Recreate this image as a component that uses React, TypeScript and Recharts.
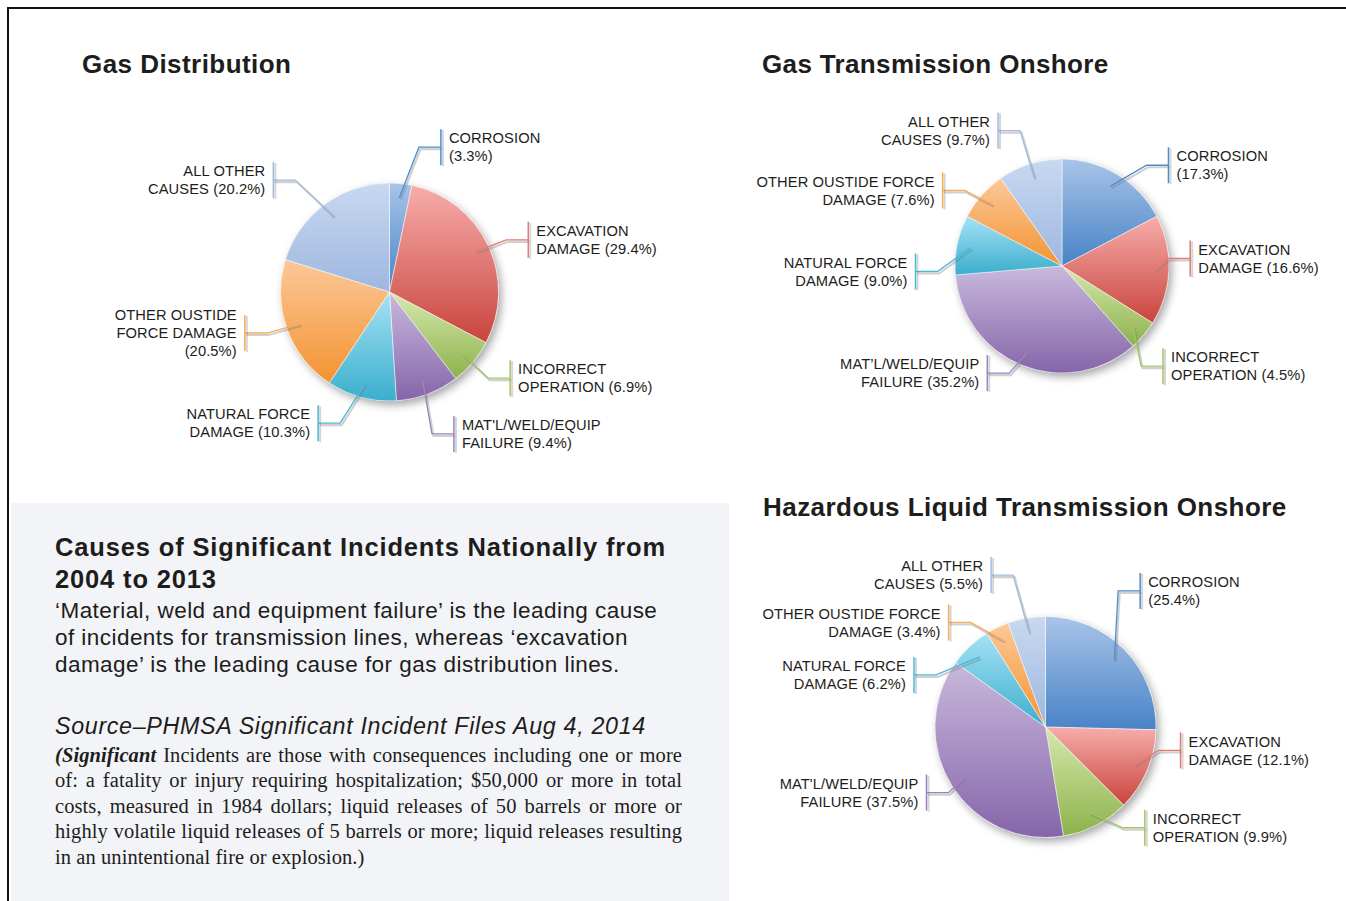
import React from 'react';
import { PieChart, Pie, Cell } from 'recharts';

// cause order, clockwise from 12 o'clock
const causes = ['corrosion', 'excavation', 'incorrect', 'material', 'natural', 'outside', 'other'];

const distributionShare = [3.3, 29.4, 6.9, 9.4, 10.3, 20.5, 20.2];
const transmissionShare = [17.3, 16.6, 4.5, 35.2, 9.0, 7.6, 9.7];
const liquidShare = [25.4, 12.1, 9.9, 37.5, 6.2, 3.4, 5.5];

// {p} is swapped for the share
const distributionLabels = [
  ['CORROSION', '({p})'],
  ['EXCAVATION', 'DAMAGE ({p})'],
  ['INCORRECT', 'OPERATION ({p})'],
  ["MAT'L/WELD/EQUIP", 'FAILURE ({p})'],
  ['NATURAL FORCE', 'DAMAGE ({p})'],
  ['OTHER OUSTIDE', 'FORCE DAMAGE', '({p})'],
  ['ALL OTHER', 'CAUSES ({p})'],
];
const transmissionLabels = [
  ['CORROSION', '({p})'],
  ['EXCAVATION', 'DAMAGE ({p})'],
  ['INCORRECT', 'OPERATION ({p})'],
  ['MAT\u2019L/WELD/EQUIP', 'FAILURE ({p})'],
  ['NATURAL FORCE', 'DAMAGE ({p})'],
  ['OTHER OUSTIDE FORCE', 'DAMAGE ({p})'],
  ['ALL OTHER', 'CAUSES ({p})'],
];
const liquidLabels = [
  ['CORROSION', '({p})'],
  ['EXCAVATION', 'DAMAGE ({p})'],
  ['INCORRECT', 'OPERATION ({p})'],
  ["MAT'L/WELD/EQUIP", 'FAILURE ({p})'],
  ['NATURAL FORCE', 'DAMAGE ({p})'],
  ['OTHER OUSTIDE FORCE', 'DAMAGE ({p})'],
  ['ALL OTHER', 'CAUSES ({p})'],
];

// label placement: angle nudge (deg, clockwise) and distance in radii
const distributionNudge = [13.6, 4.6, -4.6, -3.9, 13.6, 3.8, -9.7];
const distributionReach = [1.41, 1.36, 1.36, 1.43, 1.37, 1.38, 1.48];
const transmissionNudge = [15.4, -5.6, 4.5, 13.1, -13.6, -9, -7.8];
const transmissionReach = [1.37, 1.2, 1.33, 1.22, 1.37, 1.32, 1.4];
const liquidNudge = [-10.9, -13.4, -17.4, 3.0, -25.2, -16.9, -9.8];
const liquidReach = [1.5, 1.24, 1.28, 1.23, 1.28, 1.29, 1.46];

const gradTop = ['#a9c4e8', '#f7adab', '#d6e9ad', '#c9b9dc', '#a6e2f5', '#fcc899', '#c8d9f0'];
const gradBottom = ['#4783c6', '#c9443d', '#8cb24b', '#8565aa', '#3aaecd', '#f39331', '#9db7e0'];
const leaderColor = ['#4f8ccc', '#e57a74', '#a3c765', '#9c84c2', '#45b9d6', '#f8aa55', '#9fbbe3'];

const INK = '#1d1d1b';
const FONT = "'Liberation Sans', Arial, Helvetica, sans-serif";
const SERIF = "'Liberation Serif', 'Times New Roman', serif";
const RAD = Math.PI / 180;

function polar(cx: number, cy: number, r: number, angle: number) {
  return { x: cx + r * Math.cos(-angle * RAD), y: cy + r * Math.sin(-angle * RAD) };
}

function makeLabel(lines: string[][], share: number[], nudge: number[], reach: number[]) {
  return (props: any) => {
    const { cx, cy, midAngle, outerRadius, index } = props;
    const start = polar(cx, cy, outerRadius * 0.87, midAngle);
    const anchor = polar(cx, cy, outerRadius * reach[index], midAngle - nudge[index]);
    const side = anchor.x >= cx ? 1 : -1;
    const elbowX = anchor.x - side * 22;
    const d = `M${start.x},${start.y}L${elbowX},${anchor.y}L${anchor.x},${anchor.y}`;
    const text = lines[index].map((s) => s.replace('{p}', share[index].toFixed(1) + '%'));
    const n = text.length;
    const color = leaderColor[index];
    const tx = anchor.x + side * 8;
    const firstBase = anchor.y - ((n - 1) * 18) / 2 + 5.2;
    return (
      <g key={`lbl-${index}`}>
        <path d={d} transform="translate(1.5,2)" stroke="#777" strokeOpacity={0.35} strokeWidth={2.2} fill="none" />
        <path d={d} stroke={color} strokeWidth={1.3} fill="none" />
        <line x1={anchor.x + 2} x2={anchor.x + 2} y1={anchor.y - 17} y2={anchor.y + 19} stroke="#777" strokeOpacity={0.3} strokeWidth={2} />
        <line x1={anchor.x} x2={anchor.x} y1={anchor.y - 18} y2={anchor.y + 18} stroke={color} strokeWidth={1.5} />
        <text
          x={tx}
          textAnchor={side > 0 ? 'start' : 'end'}
          fontFamily={FONT}
          fontSize={14.7}
          letterSpacing={0.1}
          fill={INK}
        >
          {text.map((t, i) => (
            <tspan key={i} x={tx} y={firstBase + i * 18}>
              {t}
            </tspan>
          ))}
        </text>
      </g>
    );
  };
}

function GradientDefs() {
  return (
    <svg width={0} height={0} style={{ position: 'absolute' }}>
      <defs>
        {causes.map((c, i) => (
          <linearGradient key={c} id={`grad-${i}`} x1="0" y1="0" x2="0" y2="1">
            <stop offset="0%" stopColor={gradTop[i]} />
            <stop offset="100%" stopColor={gradBottom[i]} />
          </linearGradient>
        ))}
        <filter id="pieShadow" x="-20%" y="-20%" width="150%" height="150%">
          <feDropShadow dx="3" dy="4" stdDeviation="4" floodColor="#000" floodOpacity="0.35" />
        </filter>
      </defs>
    </svg>
  );
}

interface CausePieProps {
  left: number;
  top: number;
  width: number;
  height: number;
  cx: number;
  cy: number;
  radius: number;
  share: number[];
  labels: string[][];
  nudge: number[];
  reach: number[];
}

function CausePie({ left, top, width, height, cx, cy, radius, share, labels, nudge, reach }: CausePieProps) {
  const rows = causes.map((cause, i) => ({ cause, share: share[i] }));
  const total = [{ total: share.reduce((a, b) => a + b, 0) }];
  return (
    <div style={{ position: 'absolute', left, top }}>
      <PieChart width={width} height={height} margin={{ top: 0, right: 0, bottom: 0, left: 0 }}>
        <Pie
          data={total}
          dataKey="total"
          cx={cx}
          cy={cy}
          outerRadius={radius}
          startAngle={90}
          endAngle={-270}
          stroke="none"
          label={false}
          labelLine={false}
          isAnimationActive={false}
        >
          <Cell fill="#ffffff" filter="url(#pieShadow)" />
        </Pie>
        <Pie
          data={rows}
          dataKey="share"
          nameKey="cause"
          cx={cx}
          cy={cy}
          outerRadius={radius}
          startAngle={90}
          endAngle={-270}
          stroke="rgba(255,255,255,0.7)"
          strokeWidth={0.7}
          labelLine={false}
          label={makeLabel(labels, share, nudge, reach)}
          isAnimationActive={false}
        >
          {rows.map((r, i) => (
            <Cell key={r.cause} fill={`url(#grad-${i})`} />
          ))}
        </Pie>
      </PieChart>
    </div>
  );
}

function TextLine({
  x,
  baseline,
  size,
  lh,
  family = FONT,
  weight = 400,
  italic = false,
  spacing = 0,
  width,
  justify = false,
  children,
}: {
  x: number;
  baseline: number;
  size: number;
  lh: number;
  family?: string;
  weight?: number;
  italic?: boolean;
  spacing?: number;
  width?: number;
  justify?: boolean;
  children: React.ReactNode;
}) {
  const ascent = family === SERIF ? 0.3375 : 0.3465;
  const top = baseline - lh / 2 - ascent * size;
  return (
    <div
      style={{
        position: 'absolute',
        left: x,
        top,
        width,
        fontSize: size,
        lineHeight: `${lh}px`,
        fontFamily: family,
        fontWeight: weight,
        fontStyle: italic ? 'italic' : 'normal',
        letterSpacing: spacing,
        whiteSpace: justify ? 'normal' : 'nowrap',
        textAlign: justify ? 'justify' : 'left',
        textAlignLast: justify ? 'justify' : 'auto',
        color: INK,
      }}
    >
      {children}
    </div>
  );
}

const bodyLines = [
  '\u2018Material, weld and equipment failure\u2019 is the leading cause',
  'of incidents for transmission lines, whereas \u2018excavation',
  'damage\u2019 is the leading cause for gas distribution lines.',
];
const noteLines = [
  'of: a fatality or injury requiring hospitalization; $50,000 or more in total',
  'costs, measured in 1984 dollars; liquid releases of 50 barrels or more or',
  'highly volatile liquid releases of 5 barrels or more; liquid releases resulting',
  'in an unintentional fire or explosion.)',
];

export default function App() {
  return (
    <div
      style={{
        position: 'fixed',
        left: 0,
        top: 0,
        width: 1346,
        height: 901,
        overflow: 'hidden',
        background: '#ffffff',
        fontFamily: FONT,
      }}
    >
      <GradientDefs />
      <div style={{ position: 'absolute', left: 7, top: 7, width: 1339, height: 2, background: '#111' }} />
      <div style={{ position: 'absolute', left: 7, top: 7, width: 2, height: 894, background: '#111' }} />
      <div style={{ position: 'absolute', left: 11, top: 503, width: 718, height: 398, background: '#f3f4f8' }} />

      <TextLine x={82} baseline={72.7} size={26} lh={32} weight={700} spacing={0.45}>
        Gas Distribution
      </TextLine>
      <TextLine x={762} baseline={72.7} size={26} lh={32} weight={700} spacing={0.35}>
        Gas Transmission Onshore
      </TextLine>
      <TextLine x={763} baseline={515.7} size={26} lh={32} weight={700} spacing={0.45}>
        Hazardous Liquid Transmission Onshore
      </TextLine>

      <TextLine x={55} baseline={556.7} size={25.5} lh={31} weight={700} spacing={0.85}>
        Causes of Significant Incidents Nationally from
      </TextLine>
      <TextLine x={55} baseline={588.3} size={25.5} lh={31} weight={700} spacing={0.85}>
        2004 to 2013
      </TextLine>
      {bodyLines.map((t, i) => (
        <TextLine key={t} x={55} baseline={618.3 + i * 26.8} size={22.5} lh={27} spacing={0.45}>
          {t}
        </TextLine>
      ))}
      <TextLine x={55} baseline={734} size={23.3} lh={28} italic spacing={0.65}>
        Source{'\u2013'}PHMSA Significant Incident Files Aug 4, 2014
      </TextLine>
      <TextLine x={55} baseline={762} size={20.5} lh={25} family={SERIF} width={627} justify spacing={0.08}>
        <b>
          <i>(Significant</i>
        </b>{' '}
        Incidents are those with consequences including one or more
      </TextLine>
      {noteLines.map((t, i) => (
        <TextLine
          key={t}
          x={55}
          baseline={787.5 + i * 25.5}
          size={20.5}
          lh={25}
          family={SERIF}
          width={627}
          spacing={0.08}
          justify={i < noteLines.length - 1}
        >
          {t}
        </TextLine>
      ))}

      <CausePie
        left={60}
        top={110}
        width={660}
        height={370}
        cx={329.5}
        cy={182}
        radius={109}
        share={distributionShare}
        labels={distributionLabels}
        nudge={distributionNudge}
        reach={distributionReach}
      />
      <CausePie
        left={740}
        top={95}
        width={606}
        height={310}
        cx={322}
        cy={171}
        radius={107}
        share={transmissionShare}
        labels={transmissionLabels}
        nudge={transmissionNudge}
        reach={transmissionReach}
      />
      <CausePie
        left={740}
        top={540}
        width={606}
        height={330}
        cx={305.5}
        cy={187}
        radius={110.5}
        share={liquidShare}
        labels={liquidLabels}
        nudge={liquidNudge}
        reach={liquidReach}
      />
    </div>
  );
}
